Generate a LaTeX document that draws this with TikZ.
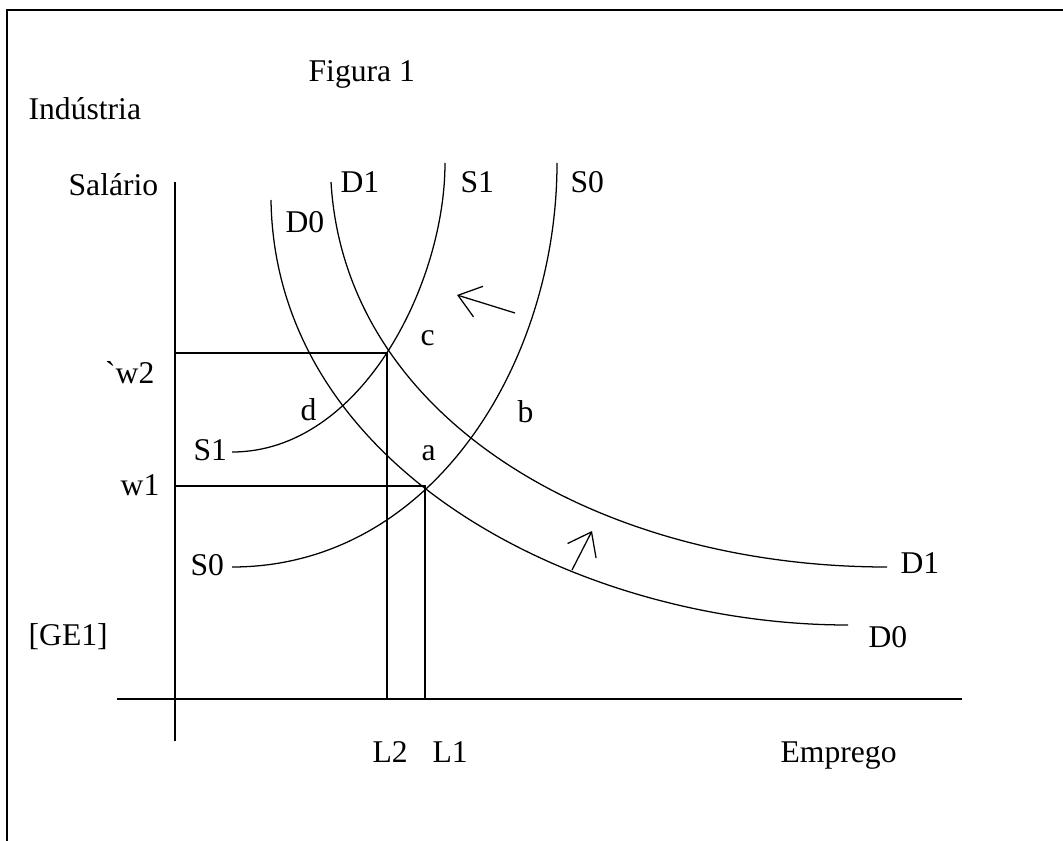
\documentclass[tikz,border=0pt]{standalone}
\usepackage{fontspec}
\setmainfont{Liberation Serif}
\usetikzlibrary{arrows.meta}

\begin{document}
\begin{tikzpicture}[x=0.25mm, y=-0.25mm, line width=0.9pt,
    lbl/.style={inner sep=0pt, anchor=base west, font=\fontsize{22.5}{27}\selectfont},
    lblr/.style={lbl, anchor=base east},
    shiftarrow/.style={-{Straight Barb[length=5.3mm, width=8mm]}}]
  \useasboundingbox (0,0) rectangle (1063,841);

  % frame
  \draw (7,841) -- (7,10) -- (1063,10);

  % titles
  \node[lbl] (fig) at (308,82) {Figura 1};
  \node[lbl] (ind) at (28,120) {Indústria};
  \node[lbl] (sal) at (68,195) {Salário};
  \node[lbl] (emp) at (780,762) {Emprego};
  \node[lbl] (ge) at (28,645) {[GE1]};

  % axes
  \coordinate (ytop) at (175,182);
  \coordinate (ybot) at (175,741);
  \coordinate (xl) at (117,699);
  \coordinate (xr) at (962,699);
  \draw (ytop) -- (ybot);
  \draw (xl) -- (xr);

  % equilibrium points
  \coordinate (c) at (387,353);
  \coordinate (a) at (425,486);
  \draw (175,353) -- (c) -- (387,699);
  \draw (175,486) -- (a) -- (425,699);

  % supply curves
  \draw (232,452) .. controls (361,452) and (445,284) .. (445,163);
  \draw (232,567) .. controls (432,567) and (557,363) .. (557,163);
  % demand curves
  \draw (331,182) .. controls (345,420) and (600,567) .. (887,567);
  \draw (271,200) .. controls (275,470) and (580,625) .. (848,625);

  % curve labels
  \node[lbl] (d1t) at (340,193) {D1};
  \node[lbl] (s1t) at (460,193) {S1};
  \node[lbl] (s0t) at (570,193) {S0};
  \node[lbl] (d0t) at (285,232) {D0};
  \node[lbl] (s1l) at (193,460) {S1};
  \node[lbl] (s0l) at (190,575) {S0};
  \node[lbl] (d1r) at (900,573) {D1};
  \node[lbl] (d0r) at (868,647) {D0};

  % points
  \node[lbl] (lc) at (420,345) {c};
  \node[lbl] (ld) at (300,420) {d};
  \node[lbl] (lb) at (517,422) {b};
  \node[lbl] (la) at (421,460) {a};

  % axis values
  \node[lblr] (w2) at (155,383) {\textasciigrave w2};
  \node[lblr] (w1) at (160,495) {w1};
  \node[lbl] (l2) at (372,762) {L2};
  \node[lbl] (l1) at (432,762) {L1};

  % shifts
  \coordinate (sa) at (515,313);
  \coordinate (sb) at (457,295);
  \coordinate (da) at (572,570);
  \coordinate (db) at (592,531);
  \draw[shiftarrow] (sa) -- (sb);
  \draw[shiftarrow] (da) -- (db);
\end{tikzpicture}
\end{document}
